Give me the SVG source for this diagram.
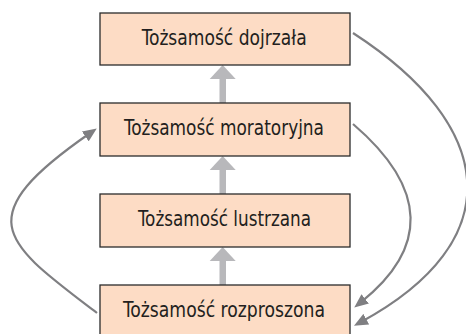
<svg xmlns="http://www.w3.org/2000/svg" width="466" height="334" viewBox="0 0 466 334">
<defs>
<style>
.box{fill:#fddcc5;stroke:#2b2b2b;stroke-width:1.3}
.lbl{font-family:"Liberation Sans Narrow","DejaVu Sans Condensed","Roboto Condensed","Liberation Sans",sans-serif;font-size:21px;fill:#231f20}
.up{fill:#b8b8bb}
.cur{fill:none;stroke:#7f7f82;stroke-width:2.2}
</style>
<marker id="ah" markerUnits="userSpaceOnUse" markerWidth="14" markerHeight="12" viewBox="0 0 14 12" refX="6" refY="6" orient="auto">
<path d="M0,0 L14,6 L0,12 z" fill="#7f7f82"/>
</marker>
</defs>
<rect width="466" height="334" fill="#ffffff"/>
<g id="connectors">
<g id="up-arrows">
<rect class="up" x="219.5" y="78" width="6.5" height="26"/>
<path class="up" d="M222.7,65 L235.7,79 L209.7,79 z"/>
<rect class="up" x="219.5" y="169" width="6.5" height="26"/>
<path class="up" d="M222.7,156 L235.7,170 L209.7,170 z"/>
<rect class="up" x="219.5" y="260" width="6.5" height="26"/>
<path class="up" d="M222.7,247 L235.7,261 L209.7,261 z"/>
</g>
<path class="cur" d="M353,33 C498,127 510,241 361,322" marker-end="url(#ah)"/>
<path class="cur" d="M353,124 C429,189 428,249 360.5,302.6" marker-end="url(#ah)"/>
<path class="cur" d="M97,313 C4,242 -34,219 90.2,133" marker-end="url(#ah)"/>
</g>
<g id="node-dojrzala">
<rect class="box" x="100" y="13" width="250" height="52"/>
<text class="lbl" x="141.7" y="45" textLength="165" lengthAdjust="spacingAndGlyphs">Tożsamość dojrzała</text>
</g>
<g id="node-moratoryjna">
<rect class="box" x="100" y="103" width="250" height="53"/>
<text class="lbl" x="124" y="135" textLength="200" lengthAdjust="spacingAndGlyphs">Tożsamość moratoryjna</text>
</g>
<g id="node-lustrzana">
<rect class="box" x="100" y="194" width="250" height="53"/>
<text class="lbl" x="138" y="226" textLength="173" lengthAdjust="spacingAndGlyphs">Tożsamość lustrzana</text>
</g>
<g id="node-rozproszona">
<rect class="box" x="100" y="285" width="250" height="60"/>
<text class="lbl" x="123" y="317" textLength="202" lengthAdjust="spacingAndGlyphs">Tożsamość rozproszona</text>
</g>
</svg>
